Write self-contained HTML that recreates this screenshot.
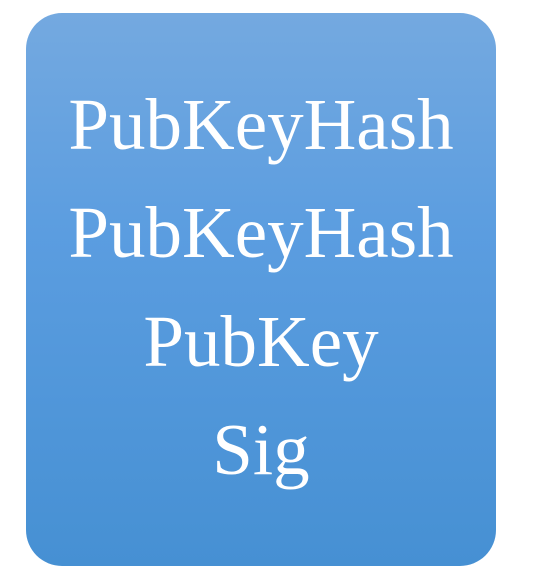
<!DOCTYPE html>
<html><head><style>
html,body{margin:0;padding:0;background:#fff;width:546px;height:586px;overflow:hidden}
.box{position:absolute;left:26px;top:13px;width:470px;height:553px;border-radius:36px;background:linear-gradient(#74a9e0,#5b9de0 40%,#4690d3);}
.t{position:absolute;left:26px;width:470px;text-align:center;color:#fff;font-family:"Liberation Serif",serif;font-size:73px;line-height:1}
</style></head><body>
<div class="box"></div>
<div class="t" style="top:88px">PubKeyHash</div>
<div class="t" style="top:196px">PubKeyHash</div>
<div class="t" style="top:305px">PubKey</div>
<div class="t" style="top:413px">Sig</div>
</body></html>
